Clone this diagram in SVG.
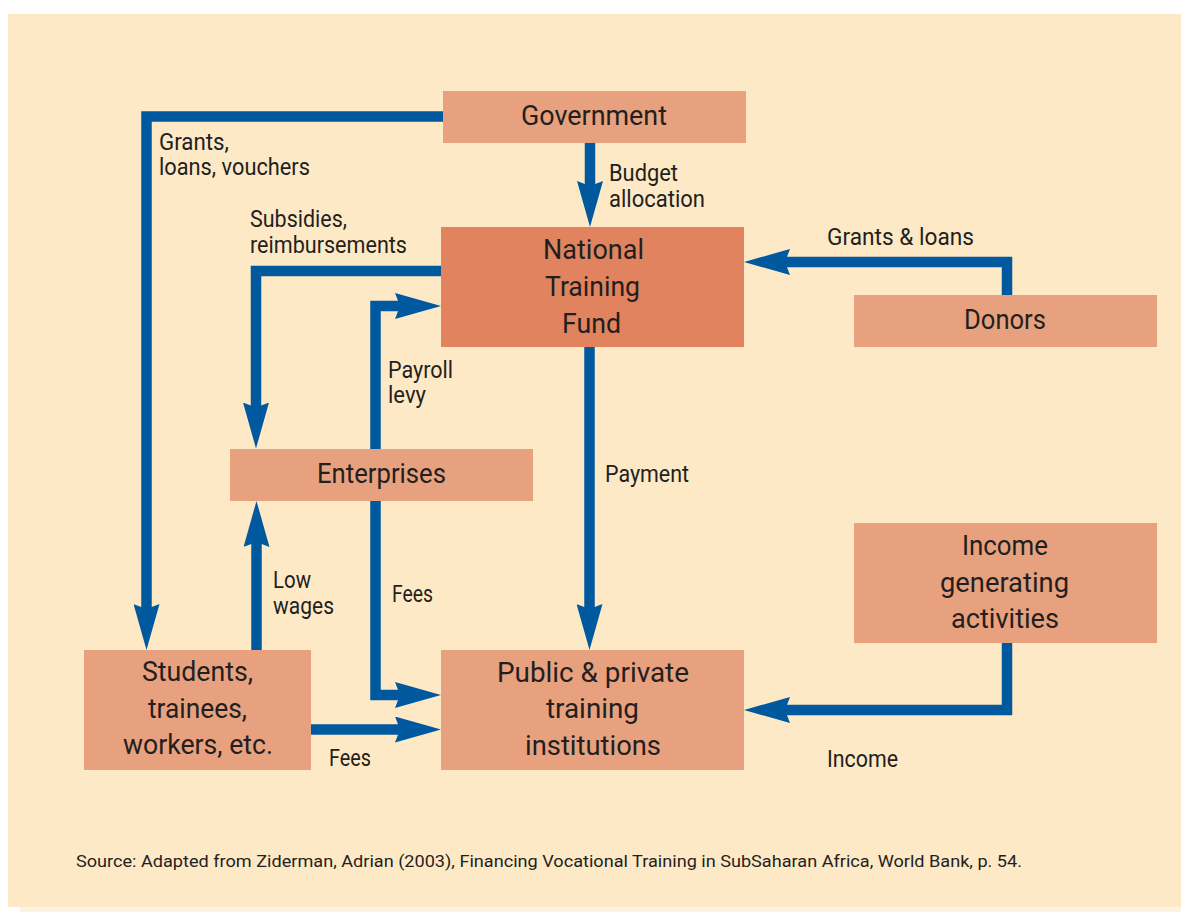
<svg xmlns="http://www.w3.org/2000/svg" width="1181" height="912" viewBox="0 0 1181 912">
  <style>
    .node { fill: #e8a17e; }
    .fund { fill: #e0835e; }
    .lbl { font-family: Roboto, "Liberation Sans", sans-serif; fill: #231f20; }
    .big { font-size: 28px; }
    .small { font-size: 23px; }
    .src { font-size: 16px; }
    .flow { fill: none; stroke: #00589e; stroke-width: 10.5; stroke-linejoin: miter; marker-end: url(#head); }
  </style>
  <defs>
    <marker id="head" markerUnits="userSpaceOnUse" viewBox="0 0 46 26" markerWidth="46" markerHeight="26" refX="21" refY="13" orient="auto">
      <path d="M0,0 L46,13 L0,26 L5,13 Z" fill="#00589e"/>
    </marker>
  </defs>

  <!-- page panel -->
  <rect x="0" y="0" width="1181" height="912" fill="#ffffff"/>
  <rect x="20" y="905" width="1161" height="7" fill="#fdf3e2"/>
  <rect x="8" y="14" width="1173" height="893" fill="#fee9c6"/>

  <!-- connectors -->
  <g id="connectors">
    <path class="flow" d="M443,116.5 H146.5 V625"/>
    <path class="flow" d="M590,143 V202"/>
    <path class="flow" d="M441,271 H256 V423.5"/>
    <path class="flow" d="M375.5,449 V306 H416"/>
    <path class="flow" d="M1007,295 V262 H769"/>
    <path class="flow" d="M589.5,347 V625"/>
    <path class="flow" d="M375.5,501 V695 H416"/>
    <path class="flow" d="M256.5,650 V526"/>
    <path class="flow" d="M311,729.5 H416"/>
    <path class="flow" d="M1007,643 V710 H769"/>
  </g>

  <!-- connector labels -->
  <g id="flow-labels" class="lbl small">
    <text x="159" y="150" textLength="70" lengthAdjust="spacingAndGlyphs">Grants,</text>
    <text x="159" y="175" textLength="151" lengthAdjust="spacingAndGlyphs">loans, vouchers</text>
    <text x="609" y="181" textLength="69" lengthAdjust="spacingAndGlyphs">Budget</text>
    <text x="609" y="207" textLength="96" lengthAdjust="spacingAndGlyphs">allocation</text>
    <text x="250" y="227" textLength="97" lengthAdjust="spacingAndGlyphs">Subsidies,</text>
    <text x="250" y="253" textLength="157" lengthAdjust="spacingAndGlyphs">reimbursements</text>
    <text x="827" y="245" textLength="147" lengthAdjust="spacingAndGlyphs">Grants &amp; loans</text>
    <text x="388" y="378" textLength="65" lengthAdjust="spacingAndGlyphs">Payroll</text>
    <text x="388" y="403" textLength="38" lengthAdjust="spacingAndGlyphs">levy</text>
    <text x="605" y="482" textLength="84" lengthAdjust="spacingAndGlyphs">Payment</text>
    <text x="273" y="588" textLength="38" lengthAdjust="spacingAndGlyphs">Low</text>
    <text x="273" y="614" textLength="61" lengthAdjust="spacingAndGlyphs">wages</text>
    <text x="392" y="602" textLength="41" lengthAdjust="spacingAndGlyphs">Fees</text>
    <text x="329" y="766" textLength="42" lengthAdjust="spacingAndGlyphs">Fees</text>
    <text x="827" y="767" textLength="71" lengthAdjust="spacingAndGlyphs">Income</text>
  </g>

  <!-- nodes -->
  <g id="government">
    <rect class="node" x="443" y="91" width="303" height="52"/>
    <text class="lbl big" x="521" y="125" textLength="146" lengthAdjust="spacingAndGlyphs">Government</text>
  </g>
  <g id="national-training-fund">
    <rect class="fund" x="441" y="227" width="303" height="120"/>
    <text class="lbl big" x="543" y="259" textLength="101" lengthAdjust="spacingAndGlyphs">National</text>
    <text class="lbl big" x="545" y="296" textLength="95" lengthAdjust="spacingAndGlyphs">Training</text>
    <text class="lbl big" x="562" y="333" textLength="59" lengthAdjust="spacingAndGlyphs">Fund</text>
  </g>
  <g id="donors">
    <rect class="node" x="854" y="295" width="303" height="52"/>
    <text class="lbl big" x="964" y="329" textLength="82" lengthAdjust="spacingAndGlyphs">Donors</text>
  </g>
  <g id="enterprises">
    <rect class="node" x="230" y="449" width="303" height="52"/>
    <text class="lbl big" x="317" y="483" textLength="129" lengthAdjust="spacingAndGlyphs">Enterprises</text>
  </g>
  <g id="income-generating-activities">
    <rect class="node" x="854" y="523" width="303" height="120"/>
    <text class="lbl big" x="962" y="555" textLength="86" lengthAdjust="spacingAndGlyphs">Income</text>
    <text class="lbl big" x="940" y="592" textLength="129" lengthAdjust="spacingAndGlyphs">generating</text>
    <text class="lbl big" x="951" y="628" textLength="108" lengthAdjust="spacingAndGlyphs">activities</text>
  </g>
  <g id="students">
    <rect class="node" x="84" y="650" width="227" height="120"/>
    <text class="lbl big" x="142" y="681" textLength="111" lengthAdjust="spacingAndGlyphs">Students,</text>
    <text class="lbl big" x="148" y="718" textLength="99" lengthAdjust="spacingAndGlyphs">trainees,</text>
    <text class="lbl big" x="123" y="754" textLength="150" lengthAdjust="spacingAndGlyphs">workers, etc.</text>
  </g>
  <g id="training-institutions">
    <rect class="node" x="441" y="650" width="303" height="120"/>
    <text class="lbl big" x="497" y="682" textLength="192" lengthAdjust="spacingAndGlyphs">Public &amp; private</text>
    <text class="lbl big" x="546" y="718" textLength="93" lengthAdjust="spacingAndGlyphs">training</text>
    <text class="lbl big" x="525" y="755" textLength="136" lengthAdjust="spacingAndGlyphs">institutions</text>
  </g>

  <!-- source line -->
  <text class="lbl src" x="76" y="867" textLength="946" lengthAdjust="spacingAndGlyphs">Source: Adapted from Ziderman, Adrian (2003), Financing Vocational Training in SubSaharan Africa, World Bank, p. 54.</text>
</svg>
